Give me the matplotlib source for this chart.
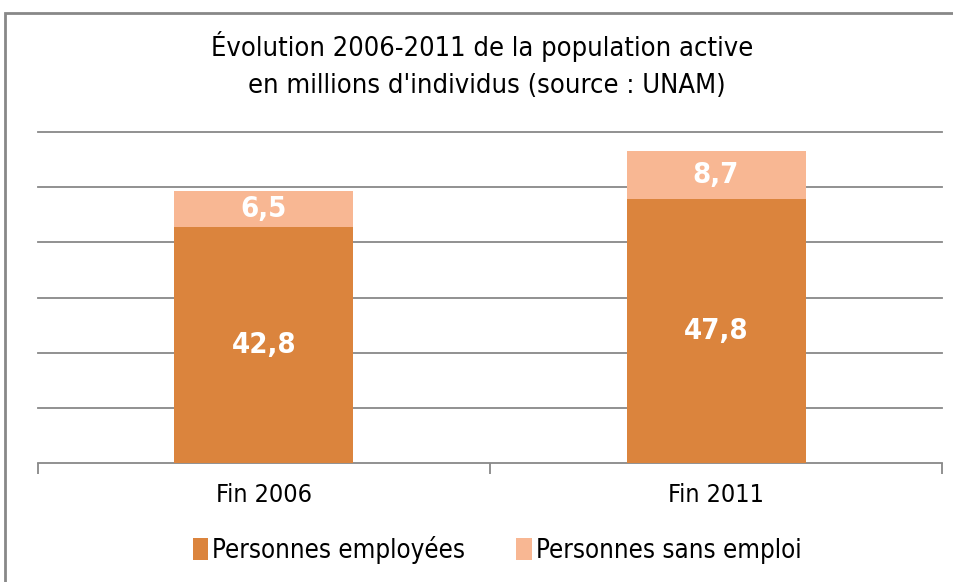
import matplotlib
matplotlib.use("Agg")
import matplotlib.pyplot as plt
from matplotlib.patches import Rectangle
import numpy as np

categories = ["Fin 2006", "Fin 2011"]
employed = [42.8, 47.8]
unemployed = [6.5, 8.7]
employed_labels = ["42,8", "47,8"]
unemployed_labels = ["6,5", "8,7"]
series_names = ["Personnes employées", "Personnes sans emploi"]

c_emp = "#DB843D"
c_unemp = "#F8B793"
grid_c = "#888888"

fam = ["DejaVu Sans"]
W, H = 954, 582
fig = plt.figure(figsize=(W/100, H/100), dpi=100)
fig.patch.set_facecolor("white")

# outer frame
fig.add_artist(Rectangle((5/W, -0.1), 1.2, (H-13)/H + 0.1, transform=fig.transFigure,
                         fill=False, edgecolor="#888888", linewidth=2))

ax = fig.add_axes([38/W, (H-463)/H, (942-38)/W, (463-132)/H])
x = np.arange(len(categories)) + 0.5
bw = 179/452
ax.bar(x, employed, bw, color=c_emp, label=series_names[0], zorder=3)
ax.bar(x, unemployed, bw, bottom=employed, color=c_unemp, label=series_names[1], zorder=3)
ax.set_xlim(0, 2)
ax.set_ylim(0, 60)
for gy in np.arange(10, 61, 10):
    ax.axhline(gy, color=grid_c, linewidth=1.3, zorder=0, clip_on=False)
ax.tick_params(axis="y", left=False, labelleft=False)
ax.set_yticks([])
for s in ["top", "right", "left"]:
    ax.spines[s].set_visible(False)
ax.spines["bottom"].set_color(grid_c)
ax.spines["bottom"].set_linewidth(1.3)
ax.set_xticks([0, 1, 2])
ax.set_xticklabels([])
ax.tick_params(axis="x", length=8, color=grid_c, width=1.3, direction="out")
for xi, cat in zip(x, categories):
    ax.text(xi, -5.8, cat, ha="center", va="center", fontsize=18, fontstretch="condensed",
            family=fam, color="black")

for xi, e, u, el, ul in zip(x, employed, unemployed, employed_labels, unemployed_labels):
    ax.text(xi, e/2, el, ha="center", va="center", color="white", fontsize=21,
            fontweight="bold", fontstretch="condensed", family=fam, zorder=4)
    ax.text(xi, e + u/2, ul, ha="center", va="center", color="white", fontsize=21,
            fontweight="bold", fontstretch="condensed", family=fam, zorder=4)

fig.text(482/W, 1-47/H, "Évolution 2006-2011 de la population active", ha="center", va="center",
         fontsize=19.5, fontstretch="condensed", family=fam)
fig.text(487/W, 1-86/H, "en millions d'individus (source : UNAM)", ha="center", va="center",
         fontsize=19.5, fontstretch="condensed", family=fam)

leg = fig.legend(loc="center", bbox_to_anchor=(497/W, 1-550/H), ncol=2, frameon=False,
                 handlelength=0.6, handleheight=0.9, handletextpad=0.15,
                 columnspacing=2.0, prop={"family": fam, "size": 18.5, "stretch": "condensed"})

fig.savefig("out.png", dpi=100)
